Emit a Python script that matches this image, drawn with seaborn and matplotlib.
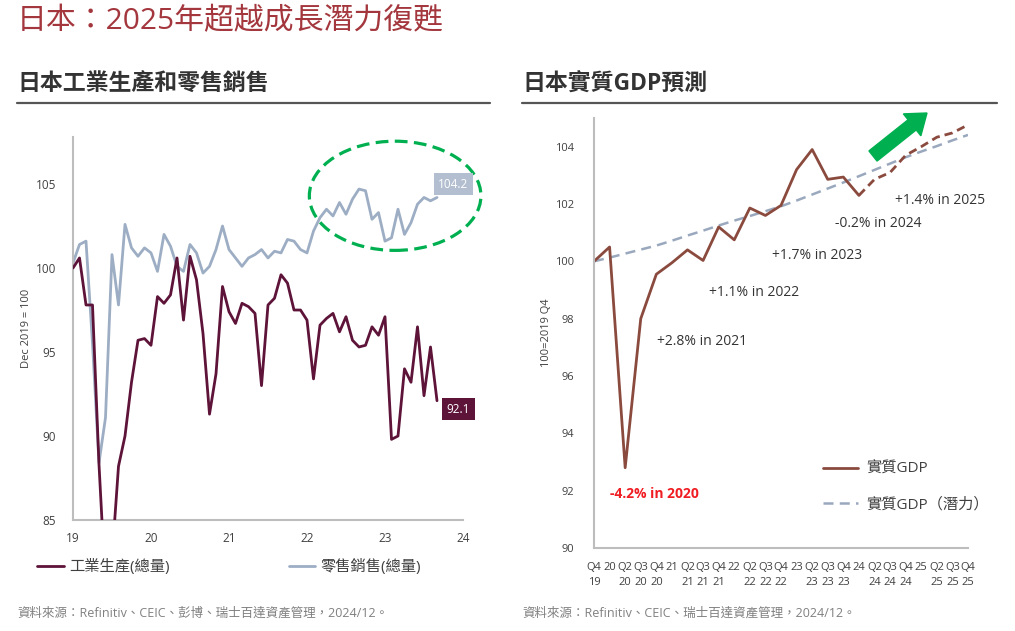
import numpy as np
import pandas as pd
import matplotlib
matplotlib.use("Agg")
import matplotlib.pyplot as plt
import seaborn as sns
from matplotlib.patches import Ellipse, FancyArrow
from matplotlib.lines import Line2D
from matplotlib.transforms import IdentityTransform

# ---- data: left panel (monthly index, Dec 2019 = 100) ----
ip_values = [100.0, 100.6, 97.8, 97.8, 88.3, 81.0, 82.7, 88.2, 90.0, 93.2,
             95.7, 95.8, 95.4, 98.3, 97.9, 98.4, 100.6, 96.9, 100.7, 99.3,
             96.1, 91.3, 93.7, 98.9, 97.4, 96.7, 97.9, 97.7, 97.3, 93.0,
             97.8, 98.2, 99.6, 99.1, 97.5, 97.5, 96.9, 93.4, 96.6, 97.0,
             97.3, 96.2, 97.1, 95.7, 95.3, 95.4, 96.5, 96.0, 97.1, 89.8,
             90.0, 94.0, 93.2, 96.5, 92.4, 95.3, 92.1]
retail_values = [100.3, 101.4, 101.6, 95.5, 88.4, 91.1, 100.8, 97.8, 102.6, 101.2,
                 100.7, 101.2, 100.9, 99.8, 102.0, 101.3, 100.1, 99.8, 101.4, 100.9,
                 99.7, 100.1, 101.1, 102.5, 101.1, 100.6, 100.1, 100.6, 100.8, 101.1,
                 100.6, 101.0, 100.9, 101.7, 101.6, 101.1, 100.9, 102.2, 103.0, 103.5,
                 103.1, 103.9, 103.2, 104.1, 104.7, 104.6, 102.9, 103.3, 101.6, 101.8,
                 103.5, 102.0, 102.7, 103.8, 104.2, 104.0, 104.2]
year_ticks = [19, 20, 21, 22, 23, 24]
left_yticks = [85, 90, 95, 100, 105]

# ---- data: right panel (quarterly real GDP, 2019 Q4 = 100) ----
quarter_labels = ["Q4\n19", "20\n ", "Q2\n20", "Q3\n20", "Q4\n20",
                  "21\n ", "Q2\n21", "Q3\n21", "Q4\n21",
                  "22\n ", "Q2\n22", "Q3\n22", "Q4\n22",
                  "23\n ", "Q2\n23", "Q3\n23", "Q4\n23",
                  "24\n ", "Q2\n24", "Q3\n24", "Q4\n24",
                  "25\n ", "Q2\n25", "Q3\n25", "Q4\n25"]
gdp_actual = [100.0, 100.5, 92.8, 98.0, 99.55, 99.95, 100.4, 100.03, 101.2,
              100.75, 101.86, 101.6, 101.95, 103.2, 103.9, 102.86, 102.94, 102.3]
gdp_forecast = [102.3, 102.86, 103.1, 103.7, 104.0, 104.33, 104.48, 104.76]
gdp_potential = [100.00, 100.13, 100.27, 100.41, 100.55, 100.72, 100.90, 101.07,
                 101.25, 101.42, 101.58, 101.75, 101.92, 102.12, 102.33, 102.54,
                 102.75, 102.97, 103.19, 103.41, 103.63, 103.83, 104.02, 104.22,
                 104.41]
growth_notes = ["-4.2% in 2020", "+2.8% in 2021", "+1.1% in 2022",
                "+1.7% in 2023", "-0.2% in 2024", "+1.4% in 2025"]
right_yticks = [90, 92, 94, 96, 98, 100, 102, 104]

sns.set_theme(style="white")
plt.rcParams['font.family'] = ['Open Sans', 'Noto Sans CJK TC', 'DejaVu Sans']

IP_COLOR = '#5E1339'
RETAIL_COLOR = '#9DAEC4'
GDP_COLOR = '#8A4A3E'
POT_COLOR = '#9AA8BE'
TICK_COLOR = '#404040'
SPINE_COLOR = '#BDBDBD'

W, H = 1015, 631
fig = plt.figure(figsize=(W / 100, H / 100), dpi=100)


def fx(px):
    return px / W


def fy(py):
    return (H - py) / H


# ---------------- left panel ----------------
ax1 = fig.add_axes([fx(73), fy(520), fx(463) - fx(73), fy(137) - fy(520)])
months = pd.DataFrame({
    'x': 19 + np.arange(len(ip_values)) / 12,
    'ip': ip_values,
    'retail': retail_values,
})
sns.lineplot(data=months, x='x', y='retail', ax=ax1, color=RETAIL_COLOR, lw=2,
             label='零售銷售(總量)', zorder=2)
sns.lineplot(data=months, x='x', y='ip', ax=ax1, color=IP_COLOR, lw=2,
             label='工業生產(總量)', zorder=3)
ax1.set_xlim(19, 24)
ax1.set_ylim(85, 107.8)
ax1.set_xticks(year_ticks)
ax1.set_xticklabels([str(t) for t in year_ticks])
ax1.set_yticks(left_yticks)
ax1.set_xlabel('')
ax1.set_ylabel('Dec 2019 = 100', fontsize=8, color=TICK_COLOR)
ax1.yaxis.set_label_coords((32 - 73) / 390, 0.5)

# dashed green ellipse highlighting recent retail strength
ax1.add_patch(Ellipse((23.13, 104.3), 2.2, 6.5, fill=False, ec='#00B050', lw=2.3,
                      ls=(0, (4, 2)), clip_on=False, zorder=4))

# callout boxes for last values
last_x = months['x'].iloc[-1]
ax1.text(last_x + 0.21, retail_values[-1] + 0.8, f"{retail_values[-1]:.1f}", color='white',
         fontsize=8.5, ha='center', va='center', zorder=6,
         bbox=dict(boxstyle='square,pad=0.4', fc='#B3BFD0', ec='none'), clip_on=False)
ax1.text(last_x + 0.27, ip_values[-1] - 0.5, f"{ip_values[-1]:.1f}", color='white',
         fontsize=8.5, ha='center', va='center', zorder=6,
         bbox=dict(boxstyle='square,pad=0.4', fc=IP_COLOR, ec='none'), clip_on=False)

handles, labels = ax1.get_legend_handles_labels()
ax1.legend(handles[::-1], labels[::-1], ncol=2, frameon=False, fontsize=11,
           loc='center left', bbox_to_anchor=(fx(37), fy(567)),
           bbox_transform=fig.transFigure, borderpad=0, borderaxespad=0,
           handlelength=1.75, handletextpad=0.35, columnspacing=7.8,
           labelcolor='#404040')

# ---------------- right panel ----------------
ax2 = fig.add_axes([fx(594), fy(548), fx(968) - fx(594), fy(118) - fy(548)])
q = np.arange(len(quarter_labels))
actual_df = pd.DataFrame({'x': q[:len(gdp_actual)], 'y': gdp_actual})
fc_df = pd.DataFrame({'x': q[len(gdp_actual) - 1:], 'y': gdp_forecast})
pot_df = pd.DataFrame({'x': q, 'y': gdp_potential})
sns.lineplot(data=pot_df, x='x', y='y', ax=ax2, color=POT_COLOR, lw=1.8,
             label='實質GDP（潛力）')
ax2.lines[-1].set_linestyle((0, (4, 2.5)))
sns.lineplot(data=actual_df, x='x', y='y', ax=ax2, color=GDP_COLOR, lw=2,
             label='實質GDP')
sns.lineplot(data=fc_df, x='x', y='y', ax=ax2, color=GDP_COLOR, lw=2)
ax2.lines[-1].set_linestyle((0, (3, 1.8)))
ax2.set_xlim(0, 24)
ax2.set_ylim(90, 105)
ax2.set_xticks(q)
ax2.set_xticklabels(quarter_labels, linespacing=1.5)
ax2.set_yticks(right_yticks)
ax2.set_xlabel('')
ax2.set_ylabel('100=2019 Q4', fontsize=8, color=TICK_COLOR)
ax2.yaxis.set_label_coords((552 - 594) / 374, 0.5)

note_pos = [(1.03, 91.88), (4.04, 97.21), (7.37, 98.92),
            (11.41, 100.21), (15.45, 101.32), (19.29, 102.13)]
for i, (txt, (nx, ny)) in enumerate(zip(growth_notes, note_pos)):
    if i == 0:
        ax2.text(nx, ny, txt, color='#F01E23', fontsize=10, fontweight='bold',
                 ha='left', va='center')
    else:
        ax2.text(nx, ny, txt, color='#333333', fontsize=10, ha='left', va='center',
                 clip_on=False)

h2, l2 = ax2.get_legend_handles_labels()
ax2.legend(h2[::-1], l2[::-1], frameon=False, fontsize=11, loc='upper left',
           bbox_to_anchor=(fx(823), fy(462)), bbox_transform=fig.transFigure,
           borderpad=0, borderaxespad=0, handlelength=2.3, handletextpad=0.5,
           labelspacing=1.35, labelcolor='#404040')

# green trend arrow
fig.add_artist(FancyArrow(873, H - 156, 54, 43, width=13, head_width=28,
                          head_length=19, length_includes_head=True,
                          color='#00B050', transform=IdentityTransform()))

# ---- shared axis styling ----
for ax, fs in [(ax1, 8.5), (ax2, 8)]:
    for side in ['top', 'right']:
        ax.spines[side].set_visible(False)
    for side in ['left', 'bottom']:
        ax.spines[side].set_color(SPINE_COLOR)
        ax.spines[side].set_linewidth(1.5)
    ax.tick_params(axis='y', length=0, labelsize=fs, labelcolor=TICK_COLOR, pad=12)
    ax.tick_params(axis='x', length=0, labelsize=fs, labelcolor=TICK_COLOR, pad=9)
    ax.grid(False)
ax2.tick_params(axis='x', pad=10)
ax2.tick_params(axis='y', pad=14)

# ---------------- titles, rules, footers ----------------
fig.text(fx(17), fy(22), '日本：2025年超越成長潛力復甦', fontsize=21.5,
         color='#A3373D', ha='left', va='center')
fig.text(fx(17), fy(84), '日本工業生產和零售銷售', fontsize=16.5, color='#333333',
         ha='left', va='center', fontweight='bold')
fig.text(fx(522), fy(84), '日本實質GDP預測', fontsize=16.5, color='#333333',
         ha='left', va='center', fontweight='bold')
for x0, x1 in [(17, 490), (522, 997)]:
    fig.add_artist(Line2D([fx(x0), fx(x1)], [fy(103), fy(103)], color='#555555',
                          lw=1.6, transform=fig.transFigure))

fig.text(fx(17), fy(613), '資料來源：Refinitiv、CEIC、彭博、瑞士百達資產管理，2024/12。',
         fontsize=9, color='#808080', ha='left', va='center')
fig.text(fx(522), fy(613), '資料來源：Refinitiv、CEIC、瑞士百達資產管理，2024/12。',
         fontsize=9, color='#808080', ha='left', va='center')

fig.savefig('out.png', dpi=100, facecolor='white')
